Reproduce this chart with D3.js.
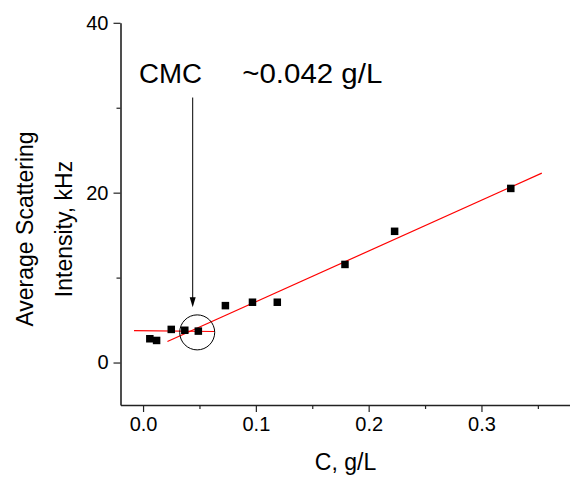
<!DOCTYPE html>
<html>
<head>
<meta charset="utf-8">
<script src="https://cdn.jsdelivr.net/npm/d3@7"></script>
<style>
  html, body { margin: 0; padding: 0; background: #fff; }
  svg { display: block; font-family: Arial, "Liberation Sans", sans-serif; }
</style>
</head>
<body>
<svg id="chart" width="570" height="479"></svg>
<script>
// Concentration (g/L) and average scattering intensity (kHz)
const concentration = [0.006, 0.012, 0.025, 0.037, 0.049, 0.073, 0.097, 0.119, 0.179, 0.223, 0.326];
const intensity     = [2.8, 2.6, 3.9, 3.8, 3.7, 6.7, 7.1, 7.1, 11.55, 15.45, 20.5];

// Linear fits below and above the CMC: [x0, x1] with y = slope*x + intercept
const fitBelow = { x: [-0.008, 0.063], slope: -1.5, intercept: 3.75 };
const fitAbove = { x: [0.0216, 0.3535], slope: 59.75, intercept: 1.18 };

// CMC marker
const cmcValue = 0.044;
const cmcCircle = { x: 0.048, y: 3.55 };
const cmcArrow = { from: 31.2, to: 6.5 };

const xTicks = [0.0, 0.1, 0.2, 0.3];
const xMinorTicks = [0.05, 0.15, 0.25, 0.35];
const yTicks = [0, 20, 40];
const yMinorTicks = [10, 30];

const svg = d3.select("#chart");
const x = d3.scaleLinear().domain([-0.02, 0.38]).range([120.5, 571.7]);
const y = d3.scaleLinear().domain([-5, 40]).range([405, 22.8]);

// Fit lines
const line = d3.line().x(d => x(d[0])).y(d => y(d[1]));
[fitBelow, fitAbove].forEach(f => {
  svg.append("path")
    .attr("d", line(f.x.map(v => [v, f.slope * v + f.intercept])))
    .attr("fill", "none")
    .attr("stroke", "#ff0000")
    .attr("stroke-width", 1.2);
});

// Data points
const sq = 7.5;
svg.append("g").selectAll("rect")
  .data(concentration.map((c, i) => [c, intensity[i]]))
  .join("rect")
  .attr("x", d => x(d[0]) - sq / 2)
  .attr("y", d => y(d[1]) - sq / 2)
  .attr("width", sq)
  .attr("height", sq)
  .attr("fill", "#000");

// Axes
svg.append("g").attr("transform", `translate(0,${y(-5)})`)
  .call(d3.axisBottom(x).tickValues(xTicks).tickFormat(d3.format(".1f")).tickSize(7).tickSizeOuter(0).tickPadding(5));
svg.append("g").attr("transform", `translate(0,${y(-5)})`)
  .call(d3.axisBottom(x).tickValues(xMinorTicks).tickFormat("").tickSize(4).tickSizeOuter(0))
  .call(g => g.select(".domain").remove());
svg.append("g").attr("transform", `translate(${x(-0.02)},0)`)
  .call(d3.axisLeft(y).tickValues(yTicks).tickSize(7).tickSizeOuter(0).tickPadding(5));
svg.append("g").attr("transform", `translate(${x(-0.02)},0)`)
  .call(d3.axisLeft(y).tickValues(yMinorTicks).tickFormat("").tickSize(4).tickSizeOuter(0))
  .call(g => g.select(".domain").remove());

svg.selectAll(".domain").attr("stroke", "#222").attr("stroke-width", 1.6);
svg.selectAll(".tick line").attr("stroke", "#222").attr("stroke-width", 1.2);
svg.selectAll(".tick text").attr("font-size", 20).attr("font-family", "Arial, 'Liberation Sans', sans-serif").attr("fill", "#000");

// Axis titles
svg.append("text")
  .attr("x", 345.5).attr("y", 470)
  .attr("text-anchor", "middle").attr("font-size", 23)
  .text("C, g/L");
const yTitle = svg.append("text")
  .attr("transform", "translate(0,229) rotate(-90)")
  .attr("text-anchor", "middle").attr("font-size", 23);
yTitle.append("tspan").attr("x", 0).attr("y", 33).text("Average Scattering");
yTitle.append("tspan").attr("x", 0).attr("y", 72).text("Intensity, kHz");

// CMC annotation
svg.append("circle")
  .attr("cx", x(cmcCircle.x)).attr("cy", y(cmcCircle.y)).attr("r", 17.5)
  .attr("fill", "none").attr("stroke", "#000").attr("stroke-width", 1);
svg.append("line")
  .attr("x1", x(cmcValue)).attr("x2", x(cmcValue))
  .attr("y1", y(cmcArrow.from)).attr("y2", y(cmcArrow.to) - 9)
  .attr("stroke", "#000").attr("stroke-width", 1);
svg.append("path")
  .attr("d", `M${x(cmcValue) - 3},${y(cmcArrow.to) - 10} L${x(cmcValue) + 3},${y(cmcArrow.to) - 10} L${x(cmcValue)},${y(cmcArrow.to)} Z`)
  .attr("fill", "#000");
svg.append("text").attr("x", 139).attr("y", 82.5).attr("font-size", 27)
  .attr("textLength", 63).attr("lengthAdjust", "spacingAndGlyphs").text("CMC");
svg.append("text").attr("x", 242.3).attr("y", 83.3).attr("font-size", 27)
  .attr("textLength", 140).attr("lengthAdjust", "spacingAndGlyphs").text("~0.042 g/L");
</script>
</body>
</html>
